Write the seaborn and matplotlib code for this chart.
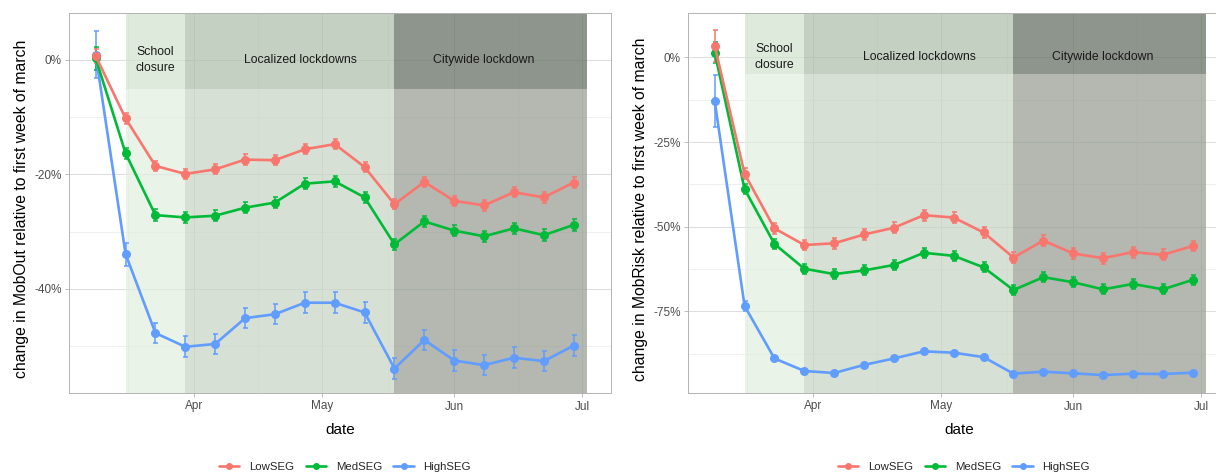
import numpy as np
import pandas as pd
import matplotlib
matplotlib.use("Agg")
import matplotlib.pyplot as plt
import matplotlib.dates as mdates
from matplotlib.ticker import PercentFormatter, FixedLocator
from matplotlib.lines import Line2D
import seaborn as sns

# ---------------- data ----------------
dates = pd.date_range("2020-03-09", "2020-06-29", freq="7D")
groups = ["LowSEG", "MedSEG", "HighSEG"]
palette = {"LowSEG": "#F8766D", "MedSEG": "#00BA38", "HighSEG": "#619CFF"}

mobout_low = [0.7, -10.2, -18.5, -19.9, -19.1, -17.4, -17.5, -15.6, -14.7, -18.7,
              -25.2, -21.3, -24.6, -25.4, -23.1, -24.0, -21.4]
mobout_med = [0.3, -16.3, -27.1, -27.5, -27.2, -25.8, -24.9, -21.6, -21.2, -24.0,
              -32.2, -28.2, -29.8, -30.8, -29.4, -30.6, -28.8]
mobout_high = [0.9, -33.9, -47.7, -50.1, -49.6, -45.1, -44.4, -42.4, -42.4, -44.1,
               -53.9, -48.9, -52.5, -53.3, -52.0, -52.6, -49.9]
mobout_low_err = [1.2] + [0.9] * 16
mobout_med_err = [2.0] + [1.0] * 16
mobout_high_err = [4.1, 2.0] + [1.8] * 15

mobrisk_low = [3.4, -34.4, -50.5, -55.4, -54.9, -52.3, -50.3, -46.6, -47.3, -51.7,
               -59.1, -54.1, -57.9, -59.3, -57.5, -58.3, -55.7]
mobrisk_med = [1.4, -38.9, -55.1, -62.4, -64.0, -62.9, -61.3, -57.7, -58.6, -62.0,
               -68.7, -64.9, -66.4, -68.5, -66.9, -68.5, -65.7]
mobrisk_high = [-12.9, -73.4, -88.9, -92.6, -93.2, -90.8, -88.9, -86.8, -87.2, -88.5,
                -93.4, -92.8, -93.3, -93.8, -93.4, -93.5, -93.1]
mobrisk_low_err = [4.7] + [1.6] * 16
mobrisk_med_err = [3.2] + [1.5] * 16
mobrisk_high_err = [7.6, 1.5] + [0.5] * 15

period_labels = ["School\nclosure", "Localized lockdowns", "Citywide lockdown"]
period_start = pd.to_datetime(["2020-03-16", "2020-03-30", "2020-05-18"])
period_end = pd.to_datetime(["2020-03-30", "2020-05-18", "2020-07-02"])
period_label_x = pd.to_datetime(["2020-03-23", "2020-04-26", "2020-06-08"])
header_bottom = -5.0
label_y = 0.0

# target colours (body, header) for each period
body_colors = ["#EAF3E8", "#D8E1D6", "#B4B9B2"]
head_colors = ["#DFEBDB", "#C5D1C3", "#8F968D"]

panels = [
    dict(ylabel="change in MobOut relative to first week of march",
         vals=[mobout_low, mobout_med, mobout_high],
         errs=[mobout_low_err, mobout_med_err, mobout_high_err],
         ylim=(-58.17, 8.21), major=[-40, -20, 0], minor=[-50, -30, -10]),
    dict(ylabel="change in MobRisk relative to first week of march",
         vals=[mobrisk_low, mobrisk_med, mobrisk_high],
         errs=[mobrisk_low_err, mobrisk_med_err, mobrisk_high_err],
         ylim=(-99.1, 13.1), major=[-75, -50, -25, 0], minor=[-87.5, -62.5, -37.5, -12.5]),
]

# ---------------- style ----------------
sns.set_theme(style="white")
plt.rcParams["font.family"] = ["Liberation Sans", "DejaVu Sans"]
plt.rcParams["axes.unicode_minus"] = False

W, H = 1216, 474
fig = plt.figure(figsize=(W / 100, H / 100), dpi=100)

ax_left_px = [69.3, 688.3]
ax_w_px = 541.4
ax_top_px, ax_bot_px = 13, 393
legend_cx = [345, 964]
ylabel_cx = [22, 640]
ylabel_cy = 209

xlim = (pd.Timestamp("2020-03-02 19:30"), pd.Timestamp("2020-07-07 16:00"))
x_major = pd.to_datetime(["2020-04-01", "2020-05-01", "2020-06-01", "2020-07-01"])
x_minor = pd.to_datetime(["2020-03-16T12:00", "2020-04-16T00:00", "2020-05-16T12:00", "2020-06-16T00:00"])

ALPHA = 0.7


def under_alpha(hexcol, a=ALPHA):
    rgb = np.array(matplotlib.colors.to_rgb(hexcol))
    c = (rgb - (1 - a)) / a
    return tuple(np.clip(c, 0, 1))


for pi, p in enumerate(panels):
    ax = fig.add_axes([ax_left_px[pi] / W, (H - ax_bot_px) / H, ax_w_px / W,
                       (ax_bot_px - ax_top_px) / H])
    ax.set_facecolor("white")
    ylo, yhi = p["ylim"]
    # grid
    for xv in x_major:
        ax.axvline(xv, color="#DEDEDE", lw=0.75, zorder=0.3)
    for xv in x_minor:
        ax.axvline(xv, color="#E6E6E6", lw=0.45, zorder=0.3)
    for yv in p["major"]:
        ax.axhline(yv, color="#DEDEDE", lw=0.75, zorder=0.3)
    for yv in p["minor"]:
        ax.axhline(yv, color="#E6E6E6", lw=0.45, zorder=0.3)

    # period shading
    for k in range(len(period_labels)):
        ax.fill_between([period_start[k], period_end[k]], ylo - 10, header_bottom,
                        color=under_alpha(body_colors[k]), alpha=ALPHA, lw=0, zorder=0.5)
        ax.fill_between([period_start[k], period_end[k]], header_bottom, yhi + 10,
                        color=under_alpha(head_colors[k]), alpha=ALPHA, lw=0, zorder=0.5)
        ax.text(period_label_x[k], label_y, period_labels[k], ha="center", va="center",
                fontsize=8.8, color="#1A1A1A", linespacing=1.45, zorder=1)

    # data
    frames = []
    for g, v, e in zip(groups, p["vals"], p["errs"]):
        frames.append(pd.DataFrame({"date": dates, "value": v, "err": e, "group": g}))
    df = pd.concat(frames, ignore_index=True)
    draw_order = ["HighSEG", "MedSEG", "LowSEG"]
    for g in draw_order:
        d = df[df.group == g]
        ax.errorbar(d["date"], d["value"], yerr=d["err"], fmt="none", ecolor=palette[g],
                    elinewidth=1.1, capsize=1.8, capthick=1.1, zorder=2)
    sns.lineplot(data=df, x="date", y="value", hue="group", hue_order=draw_order,
                 palette=palette, marker="o", markersize=6.5, markeredgewidth=0,
                 linewidth=1.9, legend=False, ax=ax, zorder=3)

    ax.set_xlim(xlim)
    ax.set_ylim(ylo, yhi)
    ax.xaxis.set_major_locator(FixedLocator(mdates.date2num(x_major)))
    ax.xaxis.set_major_formatter(mdates.DateFormatter("%b"))
    ax.yaxis.set_major_locator(FixedLocator(p["major"]))
    ax.yaxis.set_major_formatter(PercentFormatter(xmax=100, decimals=0))
    ax.tick_params(axis="both", which="major", length=3.2, width=0.6, color="#B3B3B3",
                   labelsize=8.5, labelcolor="#4D4D4D", pad=2.2,
                   bottom=True, left=True, top=False, right=False)
    for s in ax.spines.values():
        s.set_color("#B3B3B3")
        s.set_linewidth(0.7)
        s.set_zorder(4)
    ax.set_xlabel("date", fontsize=11, color="black")
    ax.set_ylabel(p["ylabel"], fontsize=11.3, color="black", va="center")
    ax.xaxis.set_label_coords(0.5, -0.078)
    ax.yaxis.set_label_coords((ylabel_cx[pi] - ax_left_px[pi]) / ax_w_px,
                              (ax_bot_px - ylabel_cy) / (ax_bot_px - ax_top_px))

    handles = [Line2D([0], [0], color=palette[g], lw=1.9, marker="o", markersize=5,
                      markeredgewidth=0) for g in groups]
    fig.legend(handles, groups, loc="center", bbox_to_anchor=(legend_cx[pi] / W, (H - 467) / H),
               ncol=3, frameon=False, fontsize=8.2, handlelength=1.8, handletextpad=0.85,
               columnspacing=1.0, borderpad=0)

fig.savefig("out.png", dpi=100)
